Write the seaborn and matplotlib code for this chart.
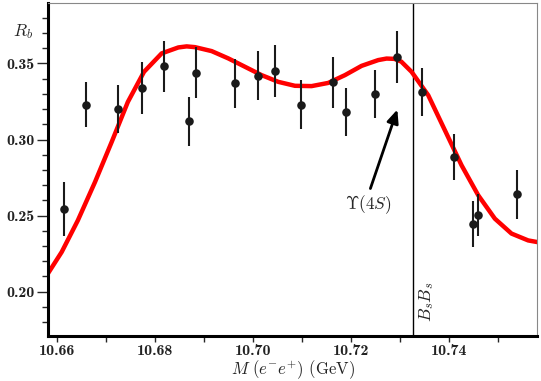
import matplotlib
matplotlib.use("Agg")
import matplotlib.pyplot as plt
import seaborn as sns
import pandas as pd

# ---- data ----
mass = [10.6613, 10.6658, 10.6723, 10.6773, 10.6818, 10.6868, 10.6883, 10.6963,
        10.7009, 10.7044, 10.7098, 10.7163, 10.7189, 10.7249, 10.7293, 10.7344,
        10.7409, 10.7449, 10.7459, 10.7539]
rb = [0.2544, 0.323, 0.320, 0.334, 0.348, 0.312, 0.344, 0.337,
      0.342, 0.345, 0.323, 0.3375, 0.318, 0.330, 0.3544, 0.3313,
      0.2884, 0.2445, 0.2505, 0.264]
rb_err = [0.018, 0.015, 0.016, 0.017, 0.017, 0.016, 0.017, 0.016,
          0.016, 0.017, 0.016, 0.017, 0.016, 0.016, 0.017, 0.016,
          0.015, 0.015, 0.014, 0.016]

fit_x = [10.6581, 10.6609, 10.6642, 10.6677, 10.6711, 10.6744, 10.6777, 10.6813,
         10.6847, 10.6864, 10.6881, 10.6915, 10.6949, 10.6983, 10.7017, 10.7051,
         10.7085, 10.7119, 10.7153, 10.7187, 10.7221, 10.7255, 10.7272, 10.7288,
         10.7302, 10.7323, 10.7357, 10.7391, 10.7425, 10.7459, 10.7493, 10.7527,
         10.7561, 10.7580]
fit_y = [0.2120, 0.2261, 0.2469, 0.2721, 0.2984, 0.3247, 0.3445, 0.3566,
         0.3605, 0.3612, 0.3607, 0.3581, 0.3533, 0.3478, 0.3423, 0.3379,
         0.3353, 0.3351, 0.3372, 0.3423, 0.3484, 0.3522, 0.3532, 0.3530,
         0.3512, 0.3445, 0.3291, 0.3061, 0.2831, 0.2634, 0.2480, 0.2382,
         0.2337, 0.2326]

threshold = 10.7326
xticks = [10.66, 10.68, 10.70, 10.72, 10.74]
yticks = [0.20, 0.25, 0.30, 0.35]

sns.set_style("ticks")
plt.rcParams['mathtext.fontset'] = 'cm'
plt.rcParams['font.family'] = ['cmr10', 'DejaVu Serif']
plt.rcParams['axes.formatter.use_mathtext'] = True

fig = plt.figure(figsize=(5.41, 3.81), dpi=100)
ax = fig.add_axes([0.0887, 0.1181, 0.9048, 0.8740])

df_pts = pd.DataFrame({"M": mass, "Rb": rb})
df_fit = pd.DataFrame({"M": fit_x, "Rb": fit_y})

sns.lineplot(data=df_fit, x="M", y="Rb", ax=ax, color="#ff0000", linewidth=3.2,
             sort=False, zorder=2, solid_joinstyle="round", solid_capstyle="butt")
ax.errorbar(mass, rb, yerr=rb_err, fmt='none', ecolor="#1a1a1a", elinewidth=1.5,
            capsize=0, zorder=3)
sns.scatterplot(data=df_pts, x="M", y="Rb", ax=ax, color="#1a1a1a", s=38,
                edgecolor="#1a1a1a", linewidth=0, zorder=4)

ax.axvline(threshold, color="black", linewidth=1.0, zorder=1)

ax.annotate("", xy=(10.7294, 0.3197), xytext=(10.7239, 0.2678),
            arrowprops=dict(arrowstyle="-|>,head_length=0.8,head_width=0.35",
                            color="black", lw=2.0, shrinkA=0, shrinkB=0))
ax.text(10.7235, 0.2574, r"$\Upsilon(4S)$", fontsize=12.5, ha="center", va="center")
ax.text(10.7353, 0.1936, r"$B_sB_s$", fontsize=12.5, ha="center", va="center",
        rotation=90)

ax.set_xlim(10.6581, 10.7580)
ax.set_ylim(0.1709, 0.3897)
ax.set_xticks(xticks)
ax.set_xticklabels([f"{v:.2f}" for v in xticks])
ax.set_yticks(yticks)
ax.set_yticklabels([f"{v:.2f}" for v in yticks])
ax.set_xticks([10.67, 10.69, 10.71, 10.73, 10.75], minor=True)
ax.set_yticks([0.18, 0.19, 0.21, 0.22, 0.23, 0.24, 0.26, 0.27, 0.28, 0.29,
               0.31, 0.32, 0.33, 0.34, 0.36, 0.37, 0.38], minor=True)
for lab in ax.get_xticklabels() + ax.get_yticklabels():
    lab.set_fontfamily('cmb10')
    lab.set_fontsize(11.5)
    lab.set_color("#222222")

ax.tick_params(axis='y', which='major', length=8, width=1.0, direction='out', pad=1.5)
ax.tick_params(axis='y', which='minor', length=4.5, width=1.0, direction='out')
ax.tick_params(axis='x', which='major', length=4, width=1.0, direction='out', pad=1.5)
ax.tick_params(axis='x', which='minor', length=4, width=1.0, direction='out')

ax.set_xlabel(r"$M\ (e^{-}e^{+})$ (GeV)", fontsize=12, labelpad=0.5, color="#222222")
ax.set_ylabel("")
ax.text(-0.03, 0.915, r"$R_b$", transform=ax.transAxes, fontsize=12.5,
        ha="right", va="center")

for side in ("left", "bottom"):
    ax.spines[side].set_linewidth(2.2)
    ax.spines[side].set_color("black")
for side in ("top", "right"):
    ax.spines[side].set_visible(True)
    ax.spines[side].set_linewidth(0.8)
    ax.spines[side].set_color("#888888")

fig.savefig("out.png", dpi=100)
